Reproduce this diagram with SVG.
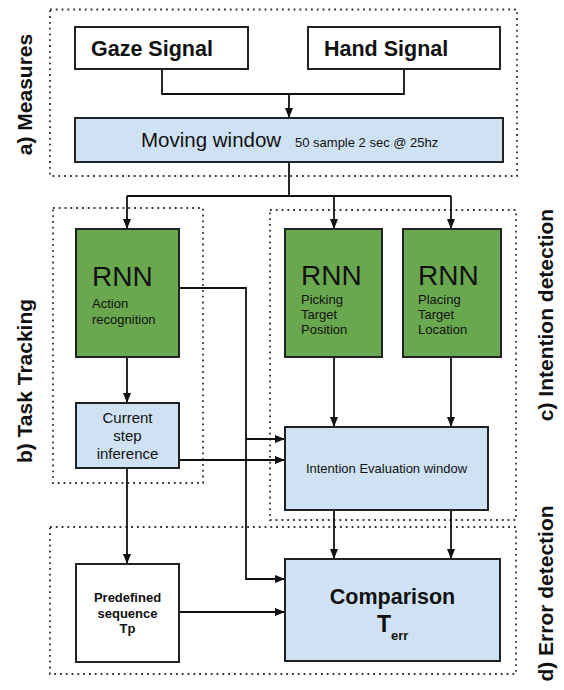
<svg xmlns="http://www.w3.org/2000/svg" width="564" height="690" viewBox="0 0 564 690">
<style>
.bg{fill:#ffffff}
.dot{fill:none;stroke:#333;stroke-width:1.8;stroke-dasharray:1.8 4}
.box{stroke:#222;stroke-width:2}
.white{fill:#ffffff}
.blue{fill:#cfe2f3}
.green{fill:#6aa84f}
.t{font-family:"Liberation Sans",Arial,sans-serif;fill:#111}
.b{font-weight:bold}
.lbl{font-family:"Liberation Sans",Arial,sans-serif;font-weight:bold;font-size:21px;fill:#111;text-anchor:middle}
.c{fill:none;stroke:#111;stroke-width:1.8}
</style>
<defs>
<marker id="ah" markerWidth="10" markerHeight="8" refX="10" refY="4" orient="auto" markerUnits="userSpaceOnUse">
<path d="M0,0 L10,4 L0,8 z" fill="#111"/>
</marker>
</defs>
<rect class="bg" x="0" y="0" width="564" height="690"/>

<g id="groups">
<rect class="dot" x="50" y="9.5" width="467" height="166.5"/>
<rect class="dot" x="53" y="208" width="150" height="275"/>
<rect class="dot" x="270" y="210" width="246" height="310"/>
<rect class="dot" x="50" y="527" width="466" height="147"/>
<text class="lbl" transform="translate(32,94.5) rotate(-90)">a) Measures</text>
<text class="lbl" transform="translate(32,381) rotate(-90)">b) Task Tracking</text>
<text class="lbl" transform="translate(553,315) rotate(-90)">c) Intention detection</text>
<text class="lbl" transform="translate(553,593.5) rotate(-90)">d) Error detection</text>
</g>

<g id="connectors">
<polyline class="c" points="162,69 162,94 404,94 404,69"/>
<line class="c" x1="289" y1="94" x2="289" y2="118" marker-end="url(#ah)"/>
<polyline class="c" points="289,162 289,196"/>
<line class="c" x1="127" y1="196" x2="451" y2="196"/>
<line class="c" x1="127" y1="196" x2="127" y2="229" marker-end="url(#ah)"/>
<line class="c" x1="334" y1="196" x2="334" y2="229" marker-end="url(#ah)"/>
<line class="c" x1="451" y1="196" x2="451" y2="229" marker-end="url(#ah)"/>
<line class="c" x1="127" y1="357" x2="127" y2="403" marker-end="url(#ah)"/>
<polyline class="c" points="179,288 246,288 246,579 285,579" marker-end="url(#ah)"/>
<line class="c" x1="246" y1="439" x2="285" y2="439" marker-end="url(#ah)"/>
<line class="c" x1="179" y1="460" x2="285" y2="460" marker-end="url(#ah)"/>
<line class="c" x1="127" y1="468" x2="127" y2="564" marker-end="url(#ah)"/>
<line class="c" x1="334" y1="357" x2="334" y2="427" marker-end="url(#ah)"/>
<line class="c" x1="451" y1="357" x2="451" y2="427" marker-end="url(#ah)"/>
<line class="c" x1="334" y1="510" x2="334" y2="559" marker-end="url(#ah)"/>
<line class="c" x1="451" y1="510" x2="451" y2="559" marker-end="url(#ah)"/>
<line class="c" x1="179" y1="612" x2="285" y2="612" marker-end="url(#ah)"/>
</g>

<g id="gaze">
<rect class="box white" x="75" y="27" width="173" height="42"/>
<text class="t b" x="91" y="56" font-size="21.5">Gaze Signal</text>
</g>
<g id="hand">
<rect class="box white" x="308" y="27" width="192" height="42"/>
<text class="t b" x="324" y="56" font-size="21.5">Hand Signal</text>
</g>
<g id="moving">
<rect class="box blue" x="75" y="118" width="428" height="44"/>
<text class="t" x="141" y="147" font-size="20.5">Moving window</text>
<text class="t" x="295" y="147" font-size="13">50 sample 2 sec @ 25hz</text>
</g>
<g id="rnn1">
<rect class="box green" x="76" y="229" width="103" height="128"/>
<text class="t" x="92" y="286" font-size="28">RNN</text>
<text class="t" x="92" y="308" font-size="13">Action</text>
<text class="t" x="92" y="324" font-size="13">recognition</text>
</g>
<g id="rnn2">
<rect class="box green" x="285" y="229" width="97" height="128"/>
<text class="t" x="301" y="285" font-size="28">RNN</text>
<text class="t" x="301" y="304" font-size="13">Picking</text>
<text class="t" x="301" y="319" font-size="13">Target</text>
<text class="t" x="301" y="334" font-size="13">Position</text>
</g>
<g id="rnn3">
<rect class="box green" x="403" y="229" width="98" height="128"/>
<text class="t" x="418" y="285" font-size="28">RNN</text>
<text class="t" x="418" y="304" font-size="13">Placing</text>
<text class="t" x="418" y="319" font-size="13">Target</text>
<text class="t" x="418" y="334" font-size="13">Location</text>
</g>
<g id="current">
<rect class="box blue" x="76" y="403" width="103" height="65"/>
<text class="t" x="127.5" y="423" font-size="15" text-anchor="middle">Current</text>
<text class="t" x="127.5" y="441" font-size="15" text-anchor="middle">step</text>
<text class="t" x="127.5" y="459" font-size="15" text-anchor="middle">inference</text>
</g>
<g id="intention">
<rect class="box blue" x="285" y="427" width="203" height="83"/>
<text class="t" x="386.5" y="473" font-size="13" text-anchor="middle">Intention Evaluation window</text>
</g>
<g id="predefined">
<rect class="box white" x="76" y="564" width="103" height="98"/>
<text class="t b" x="127.5" y="602" font-size="13" text-anchor="middle">Predefined</text>
<text class="t b" x="127.5" y="617.5" font-size="13" text-anchor="middle">sequence</text>
<text class="t b" x="127.5" y="633" font-size="13" text-anchor="middle">Tp</text>
</g>
<g id="comparison">
<rect class="box blue" x="285" y="559" width="215" height="102"/>
<text class="t b" x="392.5" y="604" font-size="21.5" text-anchor="middle">Comparison</text>
<text class="t b" x="377" y="632" font-size="23">T<tspan font-size="13" dy="8">err</tspan></text>
</g>
</svg>
